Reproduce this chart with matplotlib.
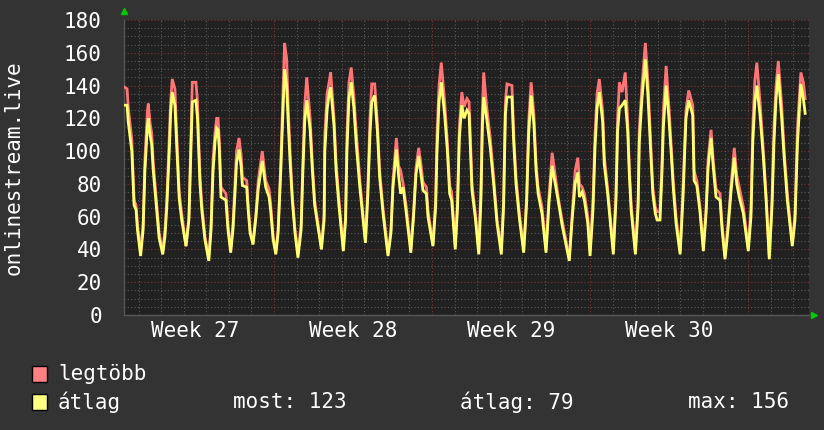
"""onlinestream.live - rrdtool style chart (legtöbb / átlag)."""
import matplotlib
matplotlib.use("Agg")
import matplotlib.pyplot as plt
from matplotlib.patches import Rectangle
from matplotlib.ticker import MultipleLocator, FixedLocator

BG = "#333333"
PLOT_BG = "#212121"
RED = "#ff7575"
YELLOW = "#ffff70"
MINOR = "#5a5a5a"
MAJOR = "#7a3434"
TXT = "#ffffff"

plt.rcParams.update({"font.family": "DejaVu Sans Mono", "font.size": 15})

# time in days since the start of week 27
t = [0.38, 0.49, 0.54, 0.70, 0.80, 0.89, 0.95, 1.09, 1.20, 1.28, 1.39, 1.43, 1.51, 1.58, 1.65,
     1.80, 1.91, 2.07, 2.17, 2.25, 2.36, 2.42, 2.49, 2.61, 2.69, 2.80, 2.91, 3.10, 3.23, 3.32,
     3.38, 3.54, 3.61, 3.65, 3.72, 3.80, 3.94, 4.11, 4.21, 4.30, 4.39, 4.46, 4.52, 4.58, 4.65,
     4.87, 4.96, 5.08,
     5.18, 5.27, 5.34, 5.45, 5.54, 5.60, 5.79, 5.85, 5.94, 6.07, 6.20, 6.30, 6.48, 6.63, 6.78,
     6.85, 6.96, 7.08, 7.18, 7.30, 7.37, 7.44, 7.47, 7.56, 7.62, 7.71, 7.81, 7.93, 8.06, 8.20,
     8.27, 8.36, 8.45, 8.60, 8.70, 8.80, 9.10, 9.22, 9.25, 9.35, 9.44, 9.51, 9.66, 9.75, 9.88,
     10.07, 10.17, 10.23, 10.32,
     10.42, 10.54, 10.65, 10.80, 10.94, 11.05, 11.16, 11.25, 11.33, 11.46, 11.58, 11.68, 11.83,
     12.05, 12.18, 12.27, 12.42, 12.52, 12.61, 12.72, 12.86, 13.06, 13.18, 13.29, 13.41, 13.51,
     13.60, 13.75, 13.82, 14.04, 14.16, 14.22, 14.31, 14.41, 14.56, 14.68, 14.78, 14.87, 15.03,
     15.13, 15.21,
     15.32, 15.42, 15.55, 15.64, 15.70, 15.77, 15.92, 16.07, 16.17, 16.23, 16.29, 16.42, 16.58,
     16.73, 16.88, 17.07, 17.17, 17.25, 17.32, 17.54, 17.62, 17.72, 17.87, 18.06, 18.19, 18.28,
     18.39, 18.51, 18.61, 18.70, 18.87, 19.05, 19.18, 19.32, 19.46, 19.61, 19.76, 20.08,
     20.20, 20.34, 20.46, 20.53, 20.65, 20.75, 20.90, 21.00, 21.13, 21.22, 21.31, 21.41, 21.56,
     21.63, 21.78, 22.03, 22.15, 22.22, 22.30, 22.42, 22.56, 22.67, 22.74, 22.82, 23.01, 23.13,
     23.18, 23.30, 23.45, 23.56, 23.66, 23.78, 23.89, 23.97, 24.10, 24.19, 24.25, 24.37, 24.49,
     24.59, 24.69, 24.81, 24.99, 25.12, 25.25, 25.37,
     25.55, 25.61, 25.73, 25.87, 26.02, 26.14, 26.23, 26.36, 26.46, 26.58, 26.76, 26.85, 26.98,
     27.11, 27.25, 27.39, 27.50, 27.61, 27.79, 28.01, 28.13, 28.21, 28.30, 28.39, 28.53, 28.68,
     28.80, 28.94, 29.06, 29.15, 29.24, 29.34, 29.49, 29.60, 29.74, 29.96, 30.08, 30.19, 30.34,
     30.45, 30.53]

legtobb = [139, 138, 127, 107, 70, 67, 55, 39, 55, 95, 124, 129, 117, 111, 93,
           68, 50, 39, 52, 70, 108, 130, 144, 138, 110, 75, 62, 42, 60, 110,
           142, 142, 130, 112, 85, 68, 48, 35, 55, 95, 112, 120, 120, 106, 78,
           74, 55, 40,
           55, 80, 100, 108, 98, 84, 82, 68, 52, 44, 62, 82, 100, 82, 77,
           68, 48, 39, 52, 93, 125, 155, 166, 156, 130, 100, 73, 52, 38, 55,
           90, 128, 145, 120, 92, 70, 41, 62, 110, 135, 142, 148, 120, 93, 70,
           40, 60, 110, 142,
           151, 133, 110, 83, 62, 45, 80, 120, 141, 141, 117, 88, 65,
           38, 52, 82, 108, 91, 88, 80, 66, 40, 62, 90, 102, 92,
           81, 78, 64, 43, 70, 110, 140, 154, 130, 105, 79, 75, 42,
           70, 115,
           136, 127, 132, 130, 108, 80, 62, 39, 80, 125, 148, 127, 108,
           84, 58, 40, 70, 130, 141, 140, 110, 84, 62, 40, 72, 118,
           142, 123, 92, 78, 66, 40, 72, 99, 85, 70, 58, 35,
           60, 88, 96, 80, 78, 74, 60, 39, 70, 110, 135, 144, 124,
           97, 77, 40, 75, 120, 142, 136, 148, 118, 90, 68, 39, 70,
           113, 140, 166, 143, 113, 78, 66, 63, 63, 95, 125, 152, 128,
           104, 81, 60, 39, 78, 125, 137,
           128, 88, 82, 66, 41, 65, 95, 113, 94, 77, 74, 55, 36,
           55, 80, 102, 85, 78, 66, 41, 65, 115, 143, 154, 130, 100,
           73, 36, 70, 115, 140, 155, 128, 100, 74, 44, 62, 115, 148,
           142, 132]

atlag = [128, 128, 118, 100, 67, 64, 52, 36, 52, 88, 115, 120, 110, 104, 88,
         64, 47, 37, 48, 66, 100, 123, 136, 128, 103, 71, 58, 42, 58, 100,
         130, 131, 120, 106, 80, 64, 46, 33, 52, 88, 106, 114, 113, 100, 72,
         70, 52, 38,
         52, 74, 93, 101, 91, 79, 78, 65, 50, 43, 60, 77, 94, 78, 72,
         64, 46, 37, 50, 88, 115, 140, 150, 140, 120, 94, 70, 50, 35, 52,
         84, 118, 131, 113, 88, 67, 40, 58, 100, 125, 135, 139, 115, 88, 66,
         39, 58, 100, 132,
         142, 126, 103, 78, 59, 44, 74, 110, 130, 134, 112, 84, 62,
         36, 50, 78, 101, 85, 74, 78, 62, 38, 60, 86, 97, 86,
         76, 74, 60, 42, 66, 100, 130, 142, 122, 100, 74, 70, 40,
         66, 108,
         128, 120, 125, 123, 102, 76, 59, 37, 72, 115, 133, 120, 102,
         80, 56, 37, 66, 123, 133, 133, 105, 80, 59, 38, 68, 110,
         134, 117, 88, 74, 62, 38, 68, 91, 80, 68, 55, 33,
         57, 80, 87, 72, 75, 70, 56, 36, 64, 102, 126, 136, 118,
         92, 74, 37, 70, 112, 126, 128, 131, 112, 86, 64, 37, 66,
         105, 132, 156, 135, 107, 74, 62, 58, 58, 88, 115, 140, 121,
         100, 77, 56, 37, 72, 120, 131,
         122, 82, 79, 63, 39, 62, 90, 108, 90, 72, 70, 52, 34,
         52, 76, 96, 80, 72, 62, 39, 60, 105, 130, 140, 122, 96,
         70, 34, 66, 106, 132, 147, 120, 96, 70, 42, 58, 105, 141,
         132, 123]

week_pos = [3.5, 10.5, 17.5, 24.5]
week_labels = ["Week 27", "Week 28", "Week 29", "Week 30"]
week_edges = [7, 14, 21, 28]
day_lines = [d for d in range(1, 31) if d not in week_edges]

fig = plt.figure(figsize=(8.24, 4.30), dpi=100, facecolor=BG)
ax = fig.add_axes([124 / 824, 115 / 430, 685 / 824, 295 / 430], facecolor=PLOT_BG)

# grid
for v in range(0, 181, 5):
    if v % 20:
        ax.axhline(v, color=MINOR, lw=0.8, ls=(0, (1, 2)), zorder=1)
for v in range(20, 181, 20):
    ax.axhline(v, color=MAJOR, lw=0.8, ls=(0, (1, 2)), zorder=1)
for d in day_lines:
    ax.axvline(d, color=MINOR, lw=0.8, ls=(0, (1, 2)), zorder=1)
for d in week_edges:
    ax.axvline(d, color=MAJOR, lw=0.8, ls=(0, (1, 2)), zorder=1)

ax.plot(t, legtobb, color=RED, lw=2.0, zorder=3, solid_joinstyle="miter")
ax.plot(t, atlag, color=YELLOW, lw=2.0, zorder=4, solid_joinstyle="miter")

ax.set_xlim(0.354, 30.70)
ax.set_ylim(0, 180)
ax.yaxis.set_major_locator(MultipleLocator(20))
ax.xaxis.set_major_locator(FixedLocator(week_pos))
ax.set_xticklabels(week_labels)
ax.tick_params(axis="both", colors=TXT, labelsize=15, length=0)
ax.tick_params(axis="y", pad=16)
ax.tick_params(axis="x", pad=4)
for s in ["top", "right"]:
    ax.spines[s].set_visible(False)
for s in ["left", "bottom"]:
    ax.spines[s].set_color("#555555")
    ax.spines[s].set_linewidth(1.0)
ax.set_ylabel("onlinestream.live", color=TXT, fontsize=15)
ax.yaxis.set_label_coords(-100 / 685, 0.5)

# axis arrows
ax.plot([0], [1.03], marker="^", color="#00cc00", ms=5, transform=ax.transAxes, clip_on=False)
ax.plot([1.008], [0], marker=">", color="#00cc00", ms=5, transform=ax.transAxes, clip_on=False)

# legend
fig.patches.append(Rectangle((32 / 824, 1 - 382 / 430), 15 / 824, 16 / 430,
                             transform=fig.transFigure, facecolor="#ff8080",
                             edgecolor="black", lw=1))
fig.patches.append(Rectangle((32 / 824, 1 - 410 / 430), 15 / 824, 16 / 430,
                             transform=fig.transFigure, facecolor="#ffff80",
                             edgecolor="black", lw=1))
fig.text(58 / 824, 1 - 374 / 430, "legtöbb", color=TXT, va="center")
fig.text(58 / 824, 1 - 402 / 430, "átlag", color=TXT, va="center")
fig.text(233 / 824, 1 - 402 / 430, "most: 123", color=TXT, va="center")
fig.text(460 / 824, 1 - 402 / 430, "átlag: 79", color=TXT, va="center")
fig.text(688 / 824, 1 - 402 / 430, "max: 156", color=TXT, va="center")

fig.savefig("out.png", dpi=100, facecolor=BG)
